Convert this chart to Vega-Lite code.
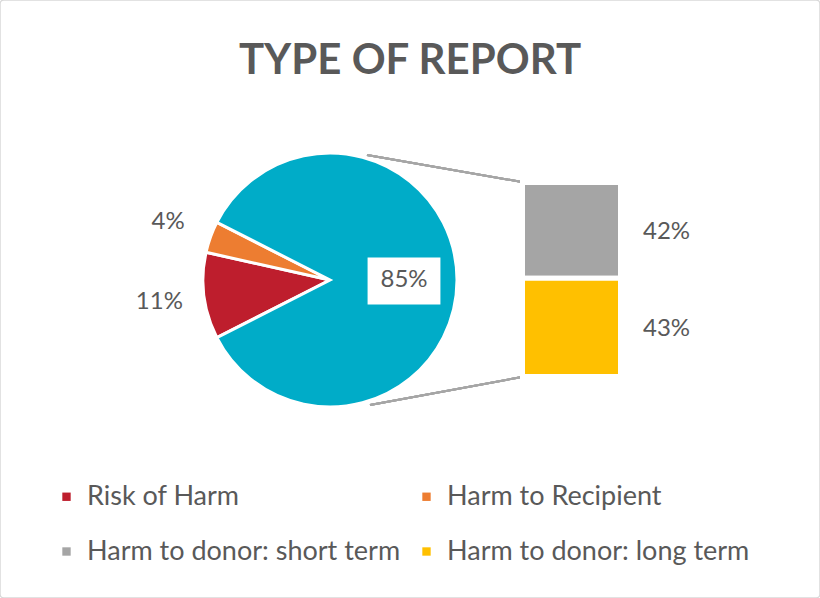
{
  "$schema": "https://vega.github.io/schema/vega-lite/v6.json",
  "width": 820,
  "height": 598,
  "padding": 0,
  "autosize": "none",
  "background": "white",
  "title": {
    "text": "TYPE OF REPORT",
    "fontSize": 42,
    "fontWeight": "bold",
    "font": "Lato",
    "color": "#595959",
    "anchor": "middle",
    "frame": "group",
    "baseline": "alphabetic",
    "offset": -116
  },
  "config": {
    "font": "Lato",
    "view": {"stroke": "#D9D9D9", "strokeWidth": 1.5, "cornerRadius": 4},
    "axis": {"disable": true}
  },
  "data": {
    "values": [
      {"part": "pie", "type": "Risk of Harm", "value": 11, "label": "11%"},
      {"part": "pie", "type": "Harm to Recipient", "value": 4, "label": "4%"},
      {"part": "pie", "type": "Harm to donor", "value": 85, "label": "85%"},
      {"part": "bar", "type": "Harm to donor: short term", "value": 42, "label": "42%"},
      {"part": "bar", "type": "Harm to donor: long term", "value": 43, "label": "43%"}
    ]
  },
  "layer": [
    {
      "mark": {"type": "rule", "stroke": "#A6A6A6", "strokeWidth": 2},
      "encoding": {"x": {"value": 367}, "y": {"value": 155}, "x2": {"value": 522}, "y2": {"value": 182}}
    },
    {
      "mark": {"type": "rule", "stroke": "#A6A6A6", "strokeWidth": 2},
      "encoding": {"x": {"value": 370}, "y": {"value": 405}, "x2": {"value": 522}, "y2": {"value": 377}}
    },
    {
      "transform": [{"filter": "datum.part === 'pie'"}],
      "mark": {"type": "arc", "outerRadius": 127, "x": 330, "y": 280, "stroke": "white", "strokeWidth": 3},
      "encoding": {
        "theta": {"field": "value", "type": "quantitative", "stack": true, "scale": {"range": [4.9323, 11.2155]}},
        "order": {"field": "type", "sort": "ascending"},
        "color": {
          "field": "type",
          "type": "nominal",
          "scale": {
            "domain": ["Risk of Harm", "Harm to Recipient", "Harm to donor: short term", "Harm to donor: long term", "Harm to donor"],
            "range": ["#BE1E2D", "#ED7D31", "#A5A5A5", "#FFC000", "#00ACC8"]
          },
          "legend": {
            "values": ["Risk of Harm", "Harm to Recipient", "Harm to donor: short term", "Harm to donor: long term"],
            "orient": "none",
            "direction": "horizontal",
            "legendX": 53,
            "legendY": 483,
            "columns": 2,
            "columnPadding": 12,
            "rowPadding": 27,
            "symbolType": "square",
            "symbolSize": 70,
            "symbolStrokeWidth": 0,
            "labelFontSize": 27,
            "labelFont": "Lato",
            "labelColor": "#595959",
            "labelOffset": 7,
            "labelLimit": 500,
            "title": null,
            "padding": 0
          }
        }
      }
    },
    {
      "transform": [{"filter": "datum.part === 'pie'"}],
      "mark": {"type": "text", "x": 330, "y": 280, "radius": 172, "fontSize": 24, "fill": "#595959", "align": "center", "baseline": "middle"},
      "encoding": {
        "theta": {"field": "value", "type": "quantitative", "stack": true},
        "order": {"field": "type", "sort": "ascending"},
        "text": {"condition": {"test": "datum.type !== 'Harm to donor'", "field": "label"}, "value": ""}
      }
    },
    {
      "transform": [{"filter": "datum.part === 'pie' && datum.type === 'Harm to donor'"}],
      "mark": {"type": "point", "x": 404, "y": 281, "shape": "M-1.55,-1L1.55,-1L1.55,1L-1.55,1Z", "size": 2209, "filled": true, "fill": "white", "opacity": 1, "strokeWidth": 0},
      "encoding": {}
    },
    {
      "transform": [{"filter": "datum.part === 'pie'"}],
      "mark": {"type": "text", "x": 330, "y": 280, "radius": 74, "fontSize": 24, "fill": "#595959", "align": "center", "baseline": "middle"},
      "encoding": {
        "theta": {"field": "value", "type": "quantitative", "stack": true},
        "order": {"field": "type", "sort": "ascending"},
        "text": {"condition": {"test": "datum.type === 'Harm to donor'", "field": "label"}, "value": ""}
      }
    },
    {
      "transform": [{"filter": "datum.part === 'bar'"}],
      "mark": {"type": "bar", "stroke": "white", "strokeWidth": 5},
      "encoding": {
        "x": {"datum": "Harm to donor", "type": "nominal", "scale": {"range": [522.5, 620.5], "paddingInner": 0, "paddingOuter": 0}},
        "y": {"field": "value", "type": "quantitative", "stack": true, "scale": {"domain": [0, 85], "range": [376.5, 182.5], "nice": false, "zero": true}},
        "order": {"field": "type", "sort": "ascending"},
        "color": {"field": "type", "type": "nominal"}
      }
    },
    {
      "transform": [{"filter": "datum.part === 'bar'"}],
      "mark": {"type": "text", "dx": 95, "dy": 2, "fontSize": 24, "fill": "#595959", "align": "center", "baseline": "middle"},
      "encoding": {
        "x": {"datum": "Harm to donor", "type": "nominal"},
        "y": {"field": "value", "type": "quantitative", "stack": true, "bandPosition": 0.5},
        "order": {"field": "type", "sort": "ascending"},
        "text": {"field": "label"}
      }
    }
  ]
}
